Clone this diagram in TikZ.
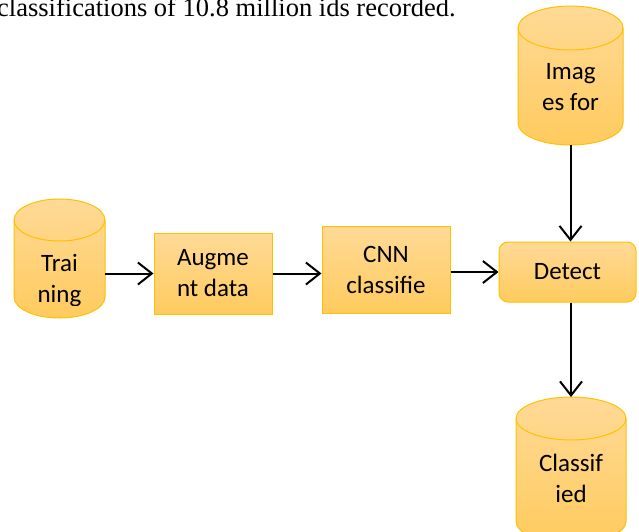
\documentclass[tikz,border=0pt]{standalone}
\usepackage{fontspec}
\setmainfont{Carlito}
\newfontfamily\headserif{Liberation Serif}
\usetikzlibrary{arrows.meta, positioning}
\definecolor{goldline}{HTML}{FFC000}
\definecolor{paletop}{HTML}{FFDA97}
\definecolor{palebot}{HTML}{FFCB5E}

% cylinder outline over a named node: #1 node, #2 half width, #3 half height of the end
\newcommand{\storeshape}[3]{%
  \path[storebody] ([yshift=-#3pt]#1.north west) -- ([yshift=#3pt]#1.south west)
    arc[start angle=180, end angle=360, x radius=#2pt, y radius=#3pt]
    -- ([yshift=-#3pt]#1.north east)
    arc[start angle=0, end angle=180, x radius=#2pt, y radius=#3pt] -- cycle;
  \draw[storeline] ([yshift=-#3pt]#1.north west)
    arc[start angle=180, end angle=360, x radius=#2pt, y radius=#3pt];
}

\begin{document}
\begin{tikzpicture}[x=1pt, y=-1pt, >={Straight Barb[length=14pt, width=22pt]},
    flow/.style={->, line width=2pt},
    stepbox/.style={draw=goldline, line width=1pt, top color=paletop, bottom color=palebot,
      font=\fontsize{25}{31}\selectfont, align=center, inner sep=0pt},
    store/.style={rectangle, inner sep=0pt, outer sep=0pt},
    storebody/.style={draw=goldline, line width=1pt, top color=paletop, bottom color=palebot},
    storeline/.style={draw=goldline, line width=1pt},
    storetext/.style={font=\fontsize{25}{31}\selectfont, align=center, inner sep=0pt}]
    \clip (0,0) rectangle (639,531);

    % running text of the page above the figure
    \node[anchor=base west, inner sep=0pt, font=\headserif\fontsize{26.5}{30}\selectfont] (pageline) at (-3,16)
      {classifications of 10.8 million ids recorded.};

    % data stores
    \node[store, minimum width=91, minimum height=119] (training) at (59.5,258.5) {};
    \node[store, minimum width=105, minimum height=139] (images) at (570.5,75.5) {};
    \node[store, minimum width=110, minimum height=146] (classified) at (571,470) {};
    \storeshape{training}{45.5}{21}
    \storeshape{images}{52.5}{22}
    \storeshape{classified}{55}{21.5}

    \begin{scope}
      \clip (14,199) rectangle (105,305);
      \node[storetext] (training-label) at (59.5,280.5) {Trai\\ning};
    \end{scope}
    \node[storetext] (images-label) at (570.5,87.5) {Imag\\es for};
    \node[storetext] (classified-label) at (571,478) {Classif\\ied};

    % processing steps
    \node[stepbox, minimum width=118, minimum height=81] (augment) at (213,273.5) {Augme\\nt data};
    \node[stepbox, minimum width=128, minimum height=87] (cnn) at (386,269.5) {CNN\\classifie};
    \node[stepbox, rounded corners=9, minimum width=137, minimum height=60] (detect) at (567.5,272) {Detect};

    % connectors
    \draw[flow] (training.east |- augment.west) -- (augment.west);
    \draw[flow] (augment.east) -- (augment.east -| cnn.west);
    \draw[flow] (detect.west -| cnn.east) -- (detect.west);
    \draw[flow] (images.south) -- (images.south |- detect.north);
    \draw[flow] (detect.south -| classified.north) -- (classified.north);
\end{tikzpicture}
\end{document}
